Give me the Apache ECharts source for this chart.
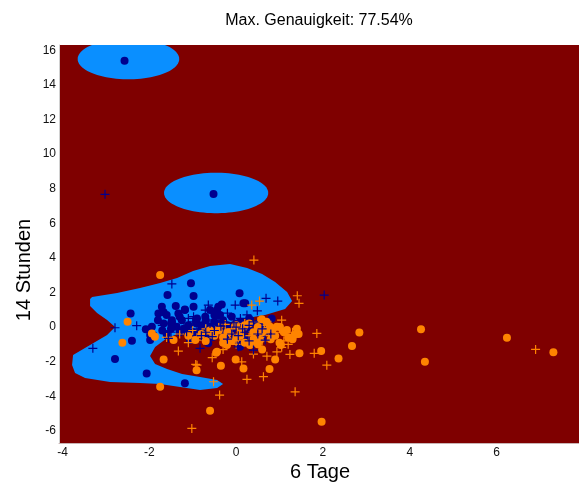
<!DOCTYPE html>
<html>
<head>
<meta charset="utf-8">
<script src="https://cdn.jsdelivr.net/npm/echarts@6/dist/echarts.min.js"></script>
<style>html,body{margin:0;padding:0;background:#fff;}#c{width:579px;height:485px;}</style>
</head>
<body>
<div id="c"></div>
<script>
// ---- data ----
const titleText = 'Max. Genauigkeit: 77.54%';
const xName = '6 Tage';
const yName = '14 Stunden';
const xTicks = [-4, -2, 0, 2, 4, 6];
const yTicks = [-6, -4, -2, 0, 2, 4, 6, 8, 10, 12, 14, 16];
const xRange = [-4.08, 7.9];
const yRange = [-6.7, 16.3];

// decision region (class 1, light blue) outline
const regionMain = [
  [-3.318,1.734],[-2.742,1.965],[-2.212,2.254],[-1.751,2.543],[-1.359,2.832],[-0.991,3.237],
  [-0.599,3.526],[-0.138,3.642],[0.253,3.410],[0.599,3.064],[0.899,2.601],[1.175,2.023],
  [1.290,1.503],[1.129,1.040],[0.668,0.694],[0.253,0.520],[-0.323,0.173],[-0.829,-0.116],
  [-1.290,-0.347],[-1.590,-0.636],[-1.866,-1.156],[-1.982,-1.676],[-1.866,-2.139],[-1.590,-2.428],
  [-1.244,-2.717],[-0.829,-2.890],[-0.438,-3.064],[-0.300,-3.295],[-0.438,-3.526],[-0.829,-3.642],
  [-1.290,-3.468],[-1.751,-3.295],[-2.212,-3.237],[-2.903,-3.179],[-3.479,-2.948],[-3.710,-2.659],
  [-3.779,-2.197],[-3.756,-1.618],[-3.364,-1.040],[-2.972,-0.462],[-2.788,0.000],[-2.972,0.405],
  [-3.203,0.809],[-3.364,1.214],[-3.364,1.618]
];
const ellipseCenters = [[-2.48, 15.49], [-0.46, 7.75]];
const ellipseRadii = [[1.17, 1.17], [1.2, 1.17]];

// class 1 (dark blue)
const blueCircles = [
  [-2.57,15.39],[-0.52,7.69],
  [-2.43,0.79],[-2.40,-0.79],[-2.79,-1.85],[-2.06,-2.68],[-1.18,-3.25],
  [-1.04,2.53],[-1.58,1.85],[0.08,1.95],[-1.39,1.21],[-1.18,1.02],[-1.71,1.17],[-1.67,0.85],
  [-2.08,-0.12],[-1.98,-0.46],[-0.33,1.31],[0.21,1.37],[-0.98,1.79],
  [-1.79,0.79],[-1.60,0.69],[-1.33,0.79],[-0.98,1.17],[-1.18,0.98],
  [-1.48,0.40],[-1.67,0.21],[-1.94,0.02],[-1.37,0.02],[-1.25,0.40],[-0.71,0.60],[-0.44,0.98],[-0.37,0.69],
  [-1.91,-0.46],[-1.98,-0.75],[-0.91,0.21],[-0.60,0.02],[0.17,1.37],[-0.41,1.17],[-0.60,0.98],
  [0.82,0.50],[-0.64,-0.94],[-0.25,-0.56],[0.44,-0.94],[0.02,-0.85],[-1.06,-0.75],
  [-1.1,0.1],[-0.8,-0.2],[-0.5,0.3],[-0.2,0.1],[0.1,0.3],[0.3,-0.1],[-0.3,-0.3],[-1.3,-0.3],
  [-1.5,-0.1],[-0.9,0.5],[-0.1,0.6],[0.5,0.2],[0.6,-0.5],[-0.7,-0.6],[0.2,-0.6],[-1.6,-0.4],
  [-0.53,-0.56],[-1.14,-0.27],[0.09,-1.14],
  [-1.7,-0.2],[-1.5,0.2],[-1.2,-0.1],[-1.0,-0.3],[-0.8,0.1],[-0.6,-0.3],[-0.4,0.1],[-0.2,-0.1],
  [0.0,0.2],[0.2,0.0],[-1.3,0.6],[-0.7,0.4],[-0.3,0.4],[0.3,0.5],[-0.1,-0.2],[-1.8,0.4],
  [-0.9,-0.4],[0.4,-0.3],[0.6,0.1],[-0.5,0.7]
];
const bluePlus = [
  [-3.02,7.67],[-3.30,-1.23],[-2.79,-0.04],[-2.29,0.08],[-1.48,2.49],[0.69,1.66],[0.96,1.50],
  [2.03,1.85],[0.49,0.94],[-0.64,1.27],[-0.02,1.27],[-0.71,0.98],[-0.98,0.60],[0.67,-0.75],
  [0.40,-1.33],[-0.83,-1.23],[0.05,-1.14],[-0.2,0.8],[-1.56,-0.65],[-1.14,-0.27],
  [-1.2,0.0],[-0.9,-0.1],[-0.6,0.2],[-0.3,0.3],[0.0,0.0],[0.3,0.1],[-0.5,-0.2],[-0.1,-0.4],
  [0.2,-0.3],[0.5,-0.4],[-0.8,-0.5],[-1.0,0.3],[-0.4,0.5],[0.1,0.5],[-1.4,0.1],[0.3,-0.8],
  [-0.2,-0.7],[0.8,-0.4],
  [-1.7,0.1],[-1.5,-0.3],[-1.1,0.5],[-0.7,-0.3],[-0.35,0.05],[0.15,-0.1],[0.4,0.3],[-0.05,0.25],
  [-0.55,-0.55],[0.6,-0.1],[-1.25,-0.15],[-0.85,0.25],[0.25,0.7],[0.05,-0.5],[-0.45,0.35]
];
// class 2 (orange)
const orangeCircles = [
  [-1.75,3.01],[-2.50,0.31],[-2.62,-0.91],[-1.67,-1.87],[-0.91,-2.49],[-1.75,-3.45],[-0.60,-4.84],
  [-0.35,-2.24],[-0.01,-1.87],[0.17,-2.39],[-1.94,-0.37],[-1.87,-0.56],[-1.44,-0.75],[1.97,-5.47],
  [0.77,-2.43],[0.90,-1.87],[1.03,-1.04],[1.46,-1.52],[1.96,-1.39],[2.36,-1.81],[2.67,-1.10],
  [2.84,-0.31],[1.44,-0.40],[1.35,-0.45],[1.17,-0.17],[1.01,0.0],[0.59,0.45],[-0.46,-1.49],
  [4.26,-0.13],[4.35,-2.00],[6.24,-0.62],[7.31,-1.46],
  [0.78,0.02],[0.94,0.02],[-0.21,-1.04],[0.32,-1.04],[0.55,-0.75],[-0.94,-0.75],[-0.44,-1.43],
  [-0.2,-0.3],[0.1,-0.2],[0.4,-0.3],[0.7,-0.2],[0.2,0.1],[-0.5,-0.5],[-0.8,-0.4],[-1.1,-0.5],
  [0.0,-0.6],[0.5,0.0],[1.2,-0.6],[0.8,-0.7],[-0.3,-0.9],[0.6,-1.3],
  [-0.6,-0.2],[-0.3,-0.6],[0.1,-0.5],[0.3,0.2],[0.6,-0.3],[0.9,-0.5],[1.1,-0.3],[1.3,-0.7],
  [0.4,-0.7],[0.0,0.1],[-0.4,-0.2],[-0.7,-0.8],[0.2,-0.9],[1.0,-0.9],[0.7,0.3],[1.4,-0.1],
  [-0.1,-0.8],[0.5,-1.0],[0.85,-0.1]
];
const orangePlus = [
  [-1.02,-5.86],[-1.33,-1.39],[-0.55,-1.77],[-0.93,-2.16],[-0.52,-3.16],[-0.38,-3.93],[0.25,-3.02],
  [0.41,3.87],[1.41,1.81],[1.45,1.37],[0.54,1.50],[0.36,1.27],[1.05,0.40],[1.86,-0.37],[1.17,-0.42],
  [1.24,-1.58],[1.80,-1.52],[2.09,-2.20],[1.36,-3.74],[0.63,-2.87],[0.71,-1.68],[0.40,-1.56],
  [0.13,-2.01],[-0.90,-2.20],[0.94,-1.43],[1.05,-1.17],[6.90,-1.29],
  [-1.0,-0.2],[-0.7,-0.1],[-0.4,0.0],[-0.1,-0.1],[0.2,0.2],[0.5,0.3],[0.8,0.1],[-0.6,-0.4],
  [-0.2,-0.5],[0.3,-0.5],[0.6,-0.8],[-0.9,-0.6],[0.0,-1.0],[-1.3,-0.4],[1.1,-0.8],[-0.3,-1.3],
  [-1.6,-0.6],[0.9,-0.3],
  [-0.5,-0.3],[-0.15,-0.35],[0.15,-0.15],[0.45,-0.15],[0.75,-0.5],[1.0,-0.1],[1.3,-0.3],
  [0.35,-0.95],[-0.75,-0.75],[0.65,0.1],[-0.25,0.15],[0.05,-0.75],[1.2,-1.0],[-1.1,-0.9],[0.55,-0.6]
];

// ---- styles ----
const RED = '#7F0000';
const LIGHTBLUE = '#0A8FFF';
const DARKBLUE = '#00008F';
const ORANGE = '#FF8400';
const PLUS = 'path://M0,5L10,5M5,0L5,10';
const FONT = '"Liberation Sans", Arial, sans-serif';

const chart = echarts.init(document.getElementById('c'), null, {renderer: 'canvas'});

function clampY(v) { return Math.max(yRange[0], Math.min(yRange[1], v)); }

function renderRegions(params, api) {
  const children = [];
  children.push({
    type: 'polygon',
    shape: {points: regionMain.map(p => api.coord(p))},
    style: {fill: LIGHTBLUE}
  });
  ellipseCenters.forEach((c, i) => {
    const pts = [];
    const r = ellipseRadii[i];
    for (let k = 0; k < 90; k++) {
      const a = k / 90 * Math.PI * 2;
      pts.push(api.coord([c[0] + r[0] * Math.cos(a), clampY(c[1] + r[1] * Math.sin(a))]));
    }
    children.push({type: 'polygon', shape: {points: pts}, style: {fill: LIGHTBLUE}});
  });
  return {type: 'group', children: children};
}

const option = {
  animation: false,
  backgroundColor: '#ffffff',
  grid: {left: 59, right: 0, top: 45, bottom: 42, show: true, backgroundColor: RED, borderWidth: 0},
  xAxis: {
    type: 'value', min: xRange[0], max: xRange[1],
    splitLine: {show: false},
    axisLine: {show: true, onZero: false, lineStyle: {color: '#c9b4b4', width: 1}},
    axisTick: {show: false},
    axisLabel: {customValues: xTicks, color: '#111', fontSize: 12, fontFamily: FONT, margin: 4}
  },
  yAxis: {
    type: 'value', min: yRange[0], max: yRange[1],
    splitLine: {show: false},
    axisLine: {show: true, onZero: false, lineStyle: {color: '#d0d0d0', width: 1}},
    axisTick: {show: false},
    axisLabel: {customValues: yTicks, color: '#111', fontSize: 12, fontFamily: FONT, margin: 3}
  },
  graphic: [
    {type: 'text', x: 319, y: 21, style: {text: titleText, fontSize: 16, fontFamily: FONT, fill: '#000', align: 'center', verticalAlign: 'middle'}},
    {type: 'text', x: 320, y: 472, style: {text: xName, fontSize: 20, fontFamily: FONT, fill: '#000', align: 'center', verticalAlign: 'middle'}},
    {type: 'text', x: 24, y: 270, rotation: Math.PI / 2, style: {text: yName, fontSize: 20, fontFamily: FONT, fill: '#000', align: 'center', verticalAlign: 'middle'}}
  ],
  series: [
    {type: 'custom', coordinateSystem: 'cartesian2d', clip: true, silent: true, data: [[0, 0]], renderItem: renderRegions, z: 1},
    {type: 'scatter', data: blueCircles, symbol: 'circle', symbolSize: 8, itemStyle: {color: DARKBLUE, opacity: 1}, z: 2, silent: true},
    {type: 'scatter', data: orangeCircles, symbol: 'circle', symbolSize: 8, itemStyle: {color: ORANGE, opacity: 1}, z: 3, silent: true},
    {type: 'scatter', data: orangePlus, symbol: PLUS, symbolSize: 9, itemStyle: {color: 'none', borderColor: ORANGE, borderWidth: 1.2, opacity: 1}, z: 4, silent: true},
    {type: 'scatter', data: bluePlus, symbol: PLUS, symbolSize: 9, itemStyle: {color: 'none', borderColor: DARKBLUE, borderWidth: 1.2, opacity: 1}, z: 5, silent: true}
  ]
};
chart.setOption(option);
</script>
</body>
</html>
